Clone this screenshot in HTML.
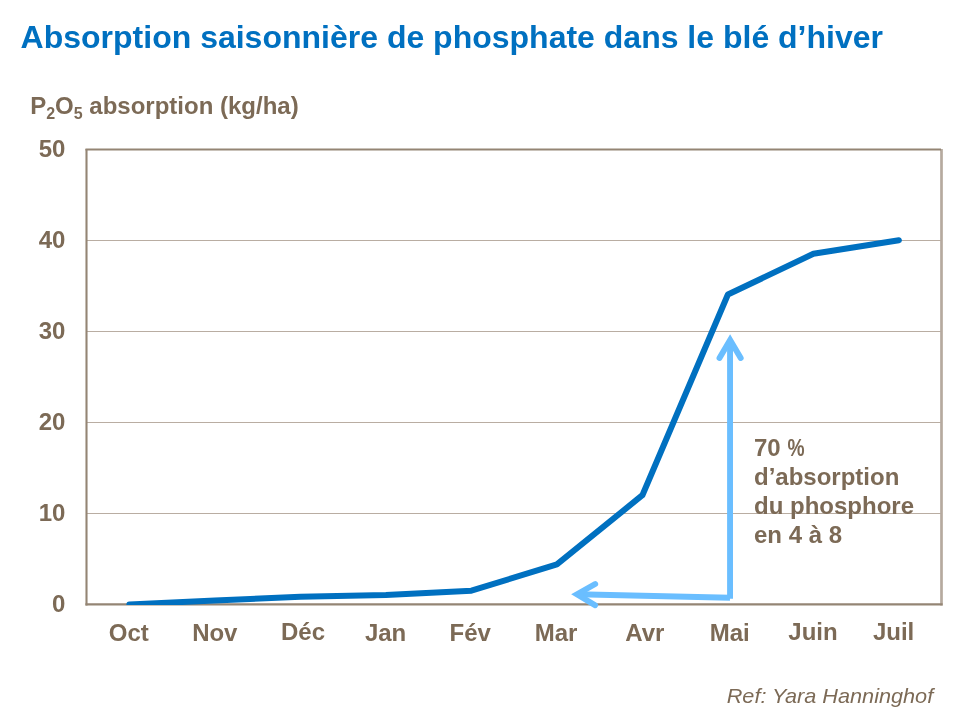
<!DOCTYPE html>
<html lang="fr">
<head>
<meta charset="utf-8">
<title>Absorption saisonnière de phosphate dans le blé d’hiver</title>
<style>
html,body{margin:0;padding:0;background:#fff;}
body{width:960px;height:720px;overflow:hidden;position:relative;}
svg{position:absolute;left:0;top:0;display:block;}
text{font-family:"Liberation Sans",sans-serif;}
.t{font-weight:bold;font-size:32px;fill:#0070c0;}
.b{font-weight:bold;font-size:24px;fill:#7c6a56;}
.r{font-style:italic;font-size:20.4px;fill:#7c6a56;}
</style>
</head>
<body>
<svg width="960" height="720" viewBox="0 0 960 720">
  <!-- title -->
  <text class="t" x="20.6" y="47.8">Absorption saisonnière de phosphate dans le blé d’hiver</text>
  <!-- y axis title -->
  <text class="b" x="30.2" y="113.8">P<tspan font-size="16" dy="4.9">2</tspan><tspan dy="-4.9">O</tspan><tspan font-size="16" dy="4.9">5</tspan><tspan dy="-4.9"> absorption (kg/ha)</tspan></text>

  <!-- gridlines -->
  <g fill="#b9ada2">
    <rect x="87" y="240" width="854" height="1"/>
    <rect x="87" y="331" width="854" height="1"/>
    <rect x="87" y="422" width="854" height="1"/>
    <rect x="87" y="513" width="854" height="1"/>
  </g>
  <!-- frame -->
  <line x1="941.5" y1="149" x2="941.5" y2="605.5" stroke="#b6aa9f" stroke-width="2.7"/>
  <line x1="85.45" y1="149.5" x2="941" y2="149.5" stroke="#948574" stroke-width="2.1"/>
  <line x1="86.5" y1="149" x2="86.5" y2="605.6" stroke="#948574" stroke-width="2.1"/>
  <line x1="85.45" y1="604.4" x2="942.6" y2="604.4" stroke="#948574" stroke-width="2.4"/>

  <!-- y labels -->
  <g class="b" text-anchor="end">
    <text x="65.4" y="157.2">50</text>
    <text x="65.4" y="248.2">40</text>
    <text x="65.4" y="339.2">30</text>
    <text x="65.4" y="430.2">20</text>
    <text x="65.4" y="521.2">10</text>
    <text x="65.4" y="612.2">0</text>
  </g>

  <!-- light arrows -->
  <g fill="none" stroke="#6abeff" stroke-width="5.9" stroke-linecap="round" stroke-linejoin="miter" stroke-miterlimit="10">
    <line x1="730.05" y1="598.8" x2="730.05" y2="341" stroke-linecap="butt"/>
    <polyline points="719.5,358 730.1,340 740.7,358"/>
    <line x1="730" y1="597.8" x2="577.5" y2="594.3" stroke-linecap="butt"/>
    <polyline points="595.2,584 577,594.3 595.1,605.2"/>
  </g>

  <!-- data line -->
  <clipPath id="plotclip"><rect x="80" y="140" width="870" height="465"/></clipPath>
  <polyline clip-path="url(#plotclip)" fill="none" stroke="#0070c0" stroke-width="6" stroke-linecap="round" stroke-linejoin="round"
    points="129.4,604.4 214.9,600.5 300.4,596.7 385.9,595 471.4,590.7 556.9,564.4 642.4,495.2 727.9,294.5 813.4,253.8 898.9,240.2"/>

  <!-- x labels -->
  <g class="b" text-anchor="middle">
    <text x="128.8" y="640.6">Oct</text>
    <text x="214.8" y="640.6">Nov</text>
    <text x="303" y="640">Déc</text>
    <text x="385.6" y="640.8">Jan</text>
    <text x="470.2" y="640.6">Fév</text>
    <text x="556" y="640.6">Mar</text>
    <text x="644.8" y="640.6">Avr</text>
    <text x="729.8" y="640.6">Mai</text>
    <text x="813" y="640">Juin</text>
    <text x="893.6" y="640">Juil</text>
  </g>

  <!-- annotation -->
  <g class="b">
    <text x="754" y="456.3">70</text>
    <text transform="translate(787.4 456.3) scale(0.8 1)">%</text>
    <text x="754" y="485">d’absorption</text>
    <text x="754" y="513.8">du phosphore</text>
    <text x="754" y="542.6">en 4 à 8</text>
  </g>

  <!-- reference -->
  <text class="r" transform="translate(726.7 703) scale(1.063 1)">Ref: Yara Hanninghof</text>
</svg>
</body>
</html>
